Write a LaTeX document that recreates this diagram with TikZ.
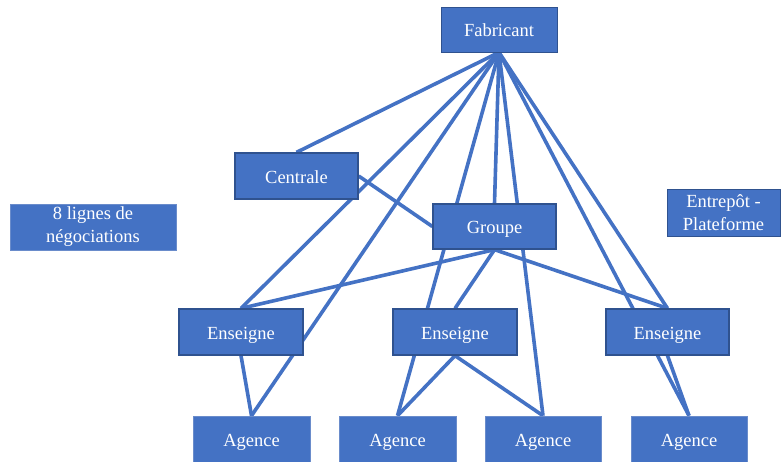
\documentclass[tikz,border=0pt]{standalone}
\usepackage{fontspec}
\setmainfont{Liberation Serif}
\usetikzlibrary{backgrounds}
\definecolor{boxblue}{HTML}{4472C4}
\definecolor{boxdark}{HTML}{2F528F}
\definecolor{boxlight}{HTML}{6A8CCB}
\begin{document}
\begin{tikzpicture}[x=1pt,y=-1pt,
  basebox/.style={rectangle, fill=boxblue, text=white, inner sep=0pt, align=center,
    font=\fontsize{18.5}{23}\selectfont},
  oneline/.style={text height=16pt, text depth=2pt},
  mainbox/.style={basebox, draw=boxdark, line width=1.3pt},
  lightbox/.style={basebox, draw=boxlight, line width=0.6pt},
  link/.style={draw=boxblue, line width=3.6pt}]
\useasboundingbox (0,0) rectangle (781,461);
\node[mainbox, oneline, line width=0.8pt, minimum width=116pt, minimum height=45pt] (fab) at (499,29.5) {Fabricant};
\node[mainbox, oneline, minimum width=123pt, minimum height=46pt] (cen) at (296.5,176) {Centrale};
\node[mainbox, oneline, minimum width=123pt, minimum height=45pt] (grp) at (494.5,226.5) {Groupe};
\node[lightbox, minimum width=166pt, minimum height=46pt] (neg) at (93,227) {8 lignes de\\négociations};
\node[mainbox, line width=0.9pt, minimum width=113pt, minimum height=47pt] (ent) at (723.5,212.5) {Entrepôt -\\Plateforme};
\node[mainbox, oneline, minimum width=124pt, minimum height=46pt] (ens1) at (241,332) {Enseigne};
\node[mainbox, oneline, minimum width=124pt, minimum height=46pt] (ens2) at (455,332) {Enseigne};
\node[mainbox, oneline, minimum width=123pt, minimum height=46pt] (ens3) at (667.5,332) {Enseigne};
\node[lightbox, oneline, minimum width=117pt, minimum height=46pt] (ag1) at (251.5,439) {Agence};
\node[lightbox, oneline, minimum width=117pt, minimum height=46pt] (ag2) at (397.5,439) {Agence};
\node[lightbox, oneline, minimum width=116pt, minimum height=46pt] (ag3) at (543,439) {Agence};
\node[lightbox, oneline, minimum width=116pt, minimum height=46pt] (ag4) at (689,439) {Agence};
\begin{pgfonlayer}{background}
  \draw[link] (fab.south) -- (cen.north);
  \draw[link] (fab.south) -- (ens1.north);
  \draw[link] (fab.south) -- (ag1.north);
  \draw[link] (fab.south) -- (ag2.north);
  \draw[link] (fab.south) -- (grp.north);
  \draw[link] (fab.south) -- (ag3.north);
  \draw[link] (fab.south) -- (ens3.north);
  \draw[link] (fab.south) -- (ag4.north);
  \draw[link] (cen.east) -- (grp.west);
  \draw[link] (grp.south) -- (ens1.north);
  \draw[link] (grp.south) -- (ens2.north);
  \draw[link] (grp.south) -- (ens3.north);
  \draw[link] (ens1.south) -- (ag1.north);
  \draw[link] (ens2.south) -- (ag2.north);
  \draw[link] (ens2.south) -- (ag3.north);
  \draw[link] (ens3.south) -- (ag4.north);
\end{pgfonlayer}
\end{tikzpicture}
\end{document}
